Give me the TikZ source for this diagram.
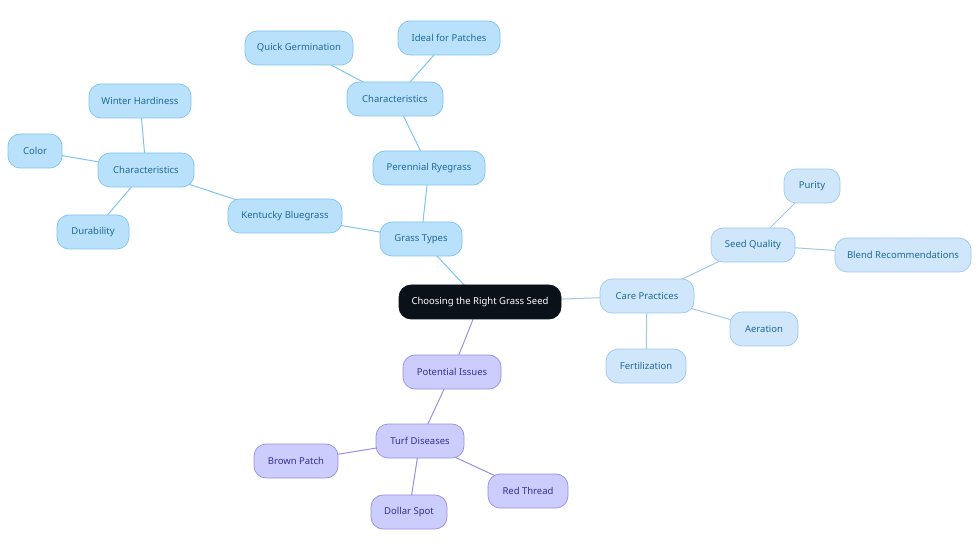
\documentclass[tikz,border=0pt]{standalone}
\usepackage{fontspec}
\setmainfont{Noto Sans}
\usetikzlibrary{backgrounds}
\definecolor{bfill}{HTML}{BAE1FB}
\definecolor{bdraw}{HTML}{7EC4EF}
\definecolor{btext}{HTML}{1D6A98}
\definecolor{cfill}{HTML}{CFE6FB}
\definecolor{cdraw}{HTML}{9EC8EE}
\definecolor{pfill}{HTML}{CCCCFD}
\definecolor{pdraw}{HTML}{978FE0}
\definecolor{ptext}{HTML}{3A2F8C}
\definecolor{rootc}{HTML}{0B1118}
\tikzset{
  base/.style={rounded corners=12pt,minimum height=34pt,inner sep=0pt,font=\fontsize{9.5}{11}\selectfont,line width=0.7pt},
  bn/.style={base,fill=bfill,draw=bdraw,text=btext},
  cn/.style={base,fill=cfill,draw=cdraw,text=btext},
  pn/.style={base,fill=pfill,draw=pdraw,text=ptext},
  rn/.style={base,fill=rootc,draw=rootc,text=white},
  bl/.style={draw=bdraw,line width=1pt},
  cl/.style={draw=cdraw,line width=1pt},
  pl/.style={draw=pdraw,line width=1pt}
}
\begin{document}
\begin{tikzpicture}[x=1pt,y=-1pt]
\useasboundingbox (0,0) rectangle (980,553);
\node[rn,minimum width=162pt] (root) at (480,302) {Choosing the Right Grass Seed};
\node[bn,minimum width=82pt] (gt) at (421,239) {Grass Types};
\node[bn,minimum width=112pt] (pr) at (429,168) {Perennial Ryegrass};
\node[bn,minimum width=96pt] (ct) at (395,99) {Characteristics};
\node[bn,minimum width=108pt] (qg) at (299,48) {Quick Germination};
\node[bn,minimum width=102pt] (ip) at (449,38) {Ideal for Patches};
\node[bn,minimum width=114pt] (kb) at (285,216) {Kentucky Bluegrass};
\node[bn,minimum width=96pt] (cl) at (146,170) {Characteristics};
\node[bn,minimum width=102pt] (wh) at (140,101) {Winter Hardiness};
\node[bn,minimum width=54pt] (co) at (35,151) {Color};
\node[bn,minimum width=72pt] (du) at (93,232) {Durability};
\node[cn,minimum width=94pt] (cp) at (647,296) {Care Practices};
\node[cn,minimum width=84pt] (sq) at (753,245) {Seed Quality};
\node[cn,minimum width=56pt] (pu) at (812,186) {Purity};
\node[cn,minimum width=136pt] (br) at (903,255) {Blend Recommendations};
\node[cn,minimum width=68pt] (ae) at (764,329) {Aeration};
\node[cn,minimum width=80pt] (fe) at (646,366) {Fertilization};
\node[pn,minimum width=98pt] (pi) at (452,372) {Potential Issues};
\node[pn,minimum width=88pt] (td) at (420,441) {Turf Diseases};
\node[pn,minimum width=84pt] (bp) at (296,461) {Brown Patch};
\node[pn,minimum width=80pt] (rt) at (528,491) {Red Thread};
\node[pn,minimum width=76pt] (ds) at (409,512) {Dollar Spot};
\begin{scope}[on background layer]
\draw[bl] (root.center) -- (gt.center);
\draw[bl] (gt.center) -- (pr.center);
\draw[bl] (pr.center) -- (ct.center);
\draw[bl] (ct.center) -- (qg.center);
\draw[bl] (ct.center) -- (ip.center);
\draw[bl] (gt.center) -- (kb.center);
\draw[bl] (kb.center) -- (cl.center);
\draw[bl] (cl.center) -- (wh.center);
\draw[bl] (cl.center) -- (co.center);
\draw[bl] (cl.center) -- (du.center);
\draw[cl] (root.center) -- (cp.center);
\draw[cl] (cp.center) -- (sq.center);
\draw[cl] (sq.center) -- (pu.center);
\draw[cl] (sq.center) -- (br.center);
\draw[cl] (cp.center) -- (ae.center);
\draw[cl] (cp.center) -- (fe.center);
\draw[pl] (root.center) -- (pi.center);
\draw[pl] (pi.center) -- (td.center);
\draw[pl] (td.center) -- (bp.center);
\draw[pl] (td.center) -- (rt.center);
\draw[pl] (td.center) -- (ds.center);
\end{scope}
\end{tikzpicture}
\end{document}
